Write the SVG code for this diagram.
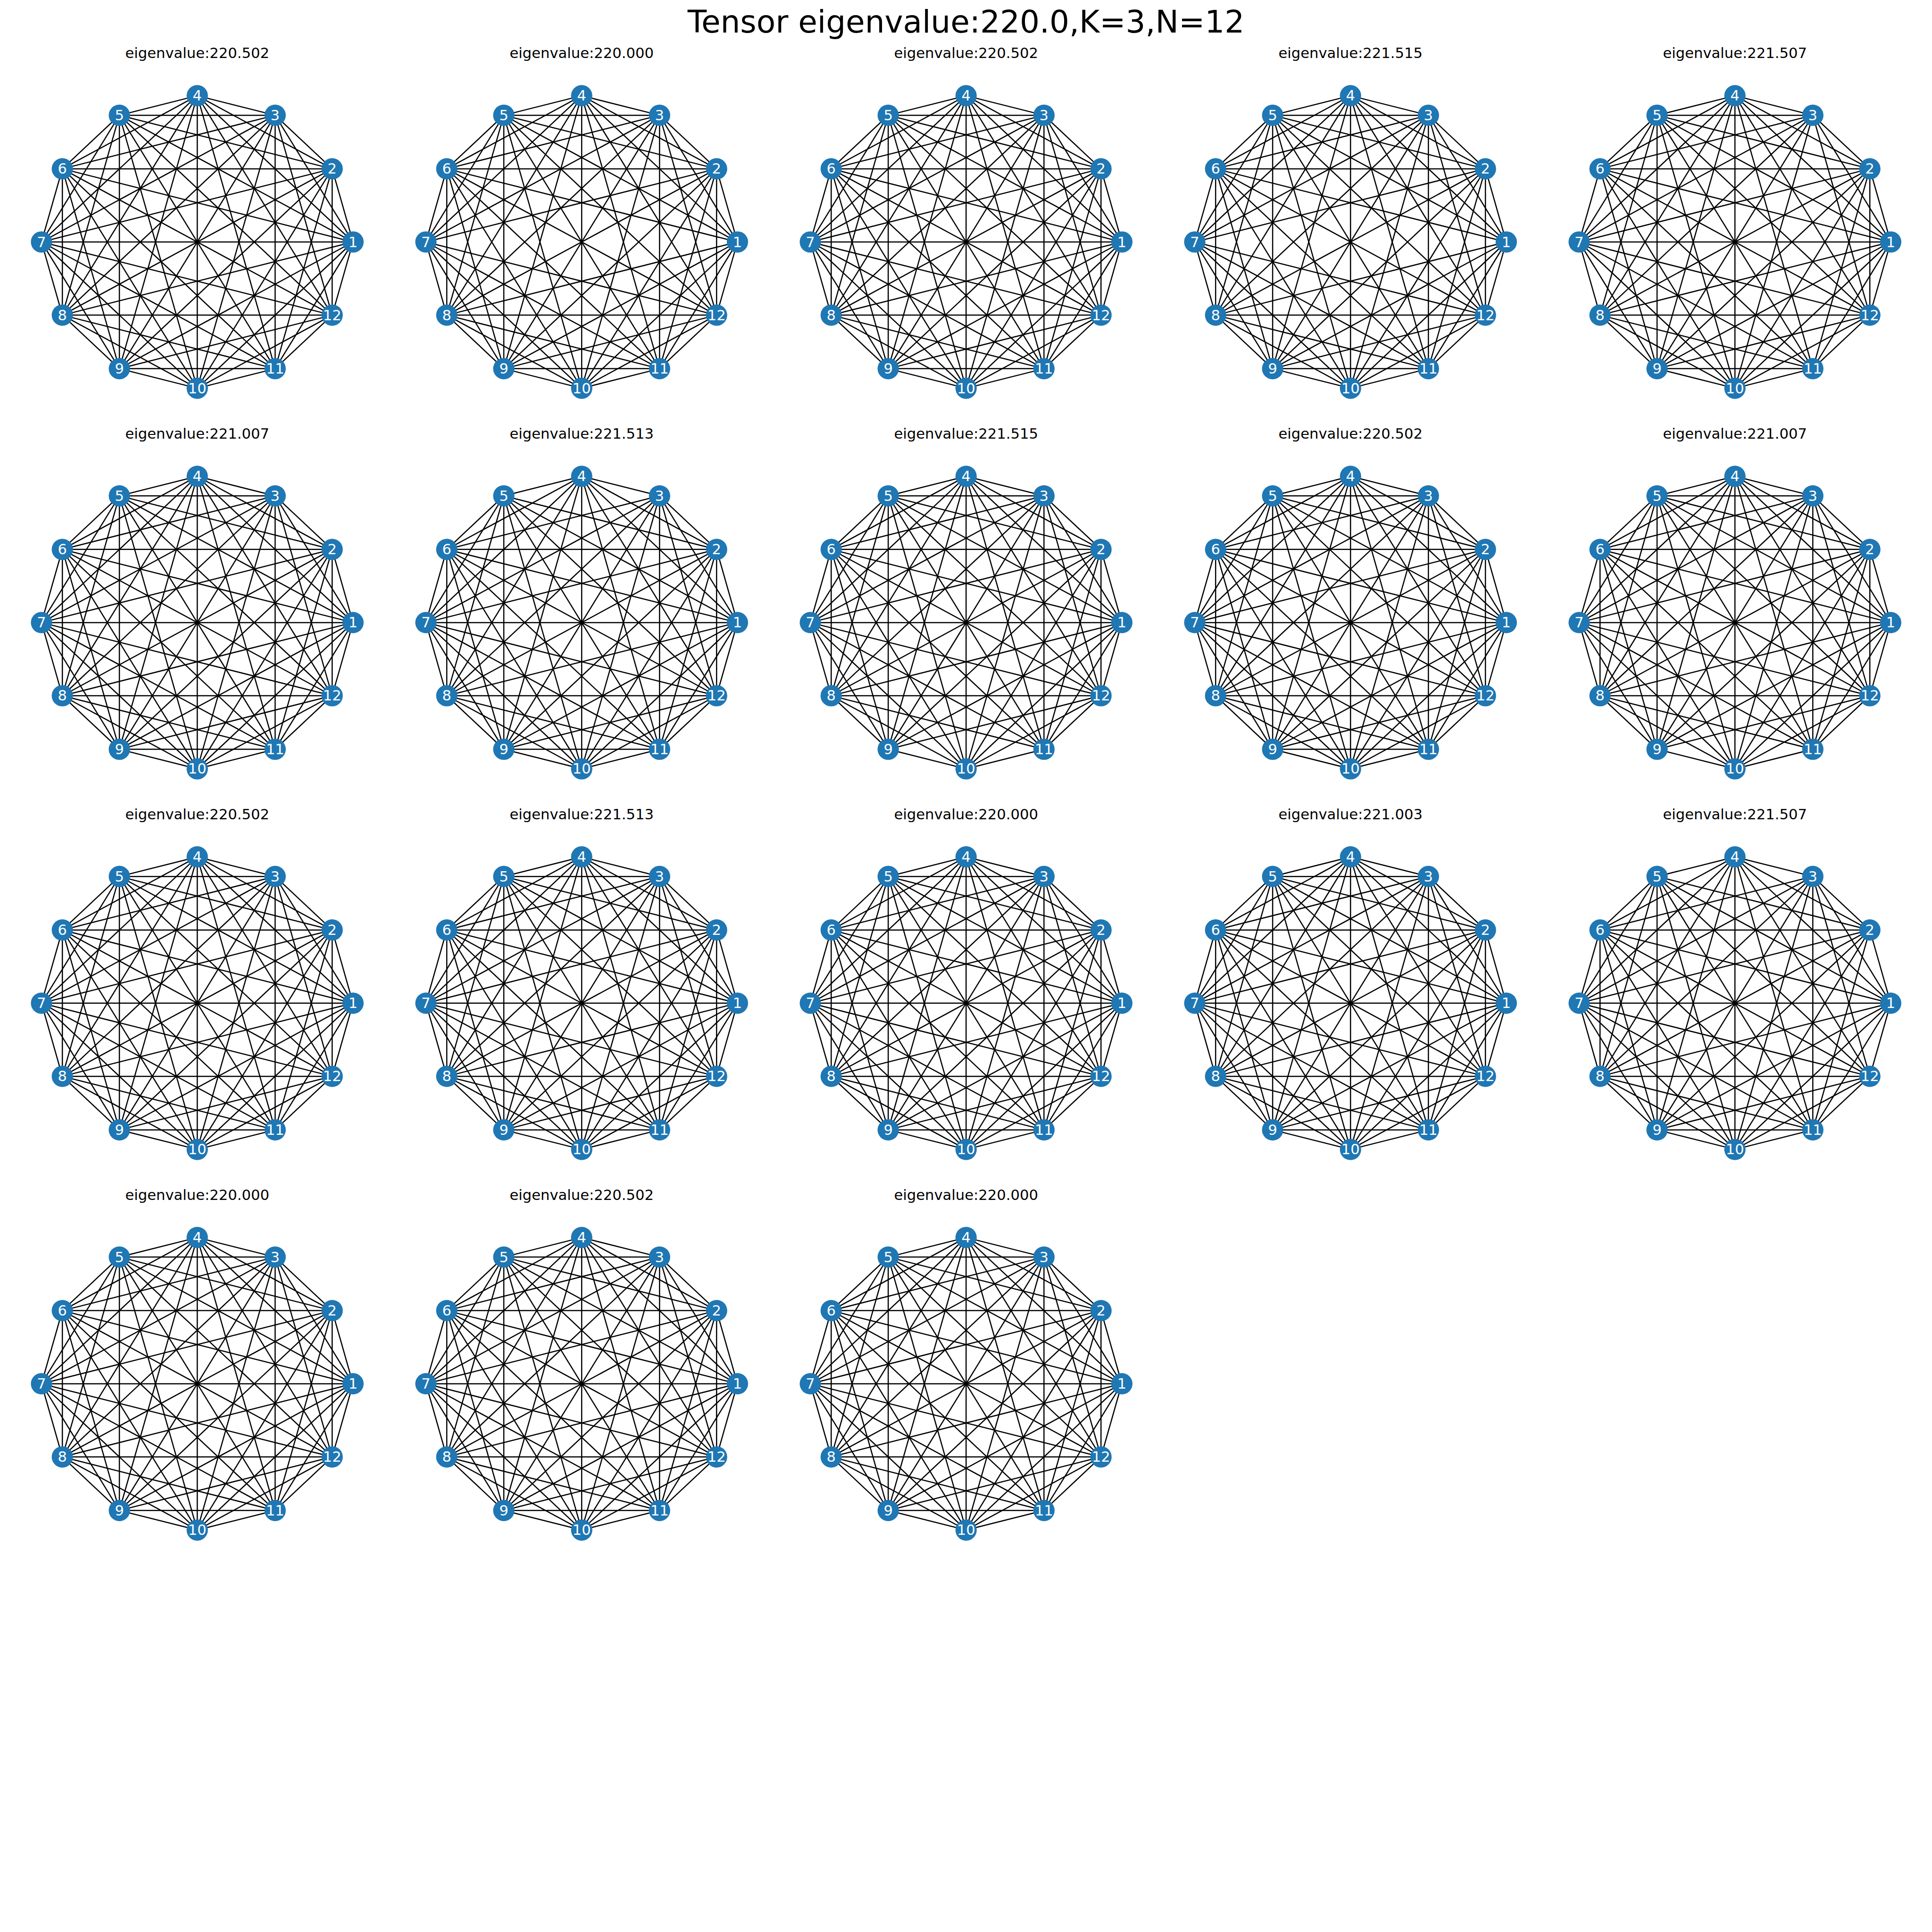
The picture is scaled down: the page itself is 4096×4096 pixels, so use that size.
<svg xmlns="http://www.w3.org/2000/svg" width="4096" height="4096" viewBox="0 0 4096 4096">
<style>
.edges{stroke:#000;stroke-width:2.5;fill:none}
.t{font-family:"DejaVu Sans","Liberation Sans",sans-serif;fill:#000;text-anchor:middle}
</style>
<defs>
<path id="e1-2" d="M330.2 0L286 -155.1"/><path id="e1-3" d="M330.2 0L165.1 -268.6"/><path id="e1-4" d="M330.2 0L0 -310.1"/><path id="e1-5" d="M330.2 0L-165.1 -268.6"/><path id="e1-6" d="M330.2 0L-286 -155.1"/><path id="e1-7" d="M330.2 0L-330.2 0"/><path id="e1-8" d="M330.2 0L-286 155.1"/><path id="e1-9" d="M330.2 0L-165.1 268.6"/><path id="e1-10" d="M330.2 0L0 310.1"/><path id="e1-11" d="M330.2 0L165.1 268.6"/><path id="e1-12" d="M330.2 0L286 155.1"/>
<path id="e2-3" d="M286 -155.1L165.1 -268.6"/><path id="e2-4" d="M286 -155.1L0 -310.1"/><path id="e2-5" d="M286 -155.1L-165.1 -268.6"/><path id="e2-6" d="M286 -155.1L-286 -155.1"/><path id="e2-7" d="M286 -155.1L-330.2 0"/><path id="e2-8" d="M286 -155.1L-286 155.1"/><path id="e2-9" d="M286 -155.1L-165.1 268.6"/><path id="e2-10" d="M286 -155.1L0 310.1"/><path id="e2-11" d="M286 -155.1L165.1 268.6"/><path id="e2-12" d="M286 -155.1L286 155.1"/>
<path id="e3-4" d="M165.1 -268.6L0 -310.1"/><path id="e3-5" d="M165.1 -268.6L-165.1 -268.6"/><path id="e3-6" d="M165.1 -268.6L-286 -155.1"/><path id="e3-7" d="M165.1 -268.6L-330.2 0"/><path id="e3-8" d="M165.1 -268.6L-286 155.1"/><path id="e3-9" d="M165.1 -268.6L-165.1 268.6"/><path id="e3-10" d="M165.1 -268.6L0 310.1"/><path id="e3-11" d="M165.1 -268.6L165.1 268.6"/><path id="e3-12" d="M165.1 -268.6L286 155.1"/>
<path id="e4-5" d="M0 -310.1L-165.1 -268.6"/><path id="e4-6" d="M0 -310.1L-286 -155.1"/><path id="e4-7" d="M0 -310.1L-330.2 0"/><path id="e4-8" d="M0 -310.1L-286 155.1"/><path id="e4-9" d="M0 -310.1L-165.1 268.6"/><path id="e4-10" d="M0 -310.1L0 310.1"/><path id="e4-11" d="M0 -310.1L165.1 268.6"/><path id="e4-12" d="M0 -310.1L286 155.1"/>
<path id="e5-6" d="M-165.1 -268.6L-286 -155.1"/><path id="e5-7" d="M-165.1 -268.6L-330.2 0"/><path id="e5-8" d="M-165.1 -268.6L-286 155.1"/><path id="e5-9" d="M-165.1 -268.6L-165.1 268.6"/><path id="e5-10" d="M-165.1 -268.6L0 310.1"/><path id="e5-11" d="M-165.1 -268.6L165.1 268.6"/><path id="e5-12" d="M-165.1 -268.6L286 155.1"/>
<path id="e6-7" d="M-286 -155.1L-330.2 0"/><path id="e6-8" d="M-286 -155.1L-286 155.1"/><path id="e6-9" d="M-286 -155.1L-165.1 268.6"/><path id="e6-10" d="M-286 -155.1L0 310.1"/><path id="e6-11" d="M-286 -155.1L165.1 268.6"/><path id="e6-12" d="M-286 -155.1L286 155.1"/>
<path id="e7-8" d="M-330.2 0L-286 155.1"/><path id="e7-9" d="M-330.2 0L-165.1 268.6"/><path id="e7-10" d="M-330.2 0L0 310.1"/><path id="e7-11" d="M-330.2 0L165.1 268.6"/><path id="e7-12" d="M-330.2 0L286 155.1"/>
<path id="e8-9" d="M-286 155.1L-165.1 268.6"/><path id="e8-10" d="M-286 155.1L0 310.1"/><path id="e8-11" d="M-286 155.1L165.1 268.6"/><path id="e8-12" d="M-286 155.1L286 155.1"/>
<path id="e9-10" d="M-165.1 268.6L0 310.1"/><path id="e9-11" d="M-165.1 268.6L165.1 268.6"/><path id="e9-12" d="M-165.1 268.6L286 155.1"/>
<path id="e10-11" d="M0 310.1L165.1 268.6"/><path id="e10-12" d="M0 310.1L286 155.1"/>
<path id="e11-12" d="M165.1 268.6L286 155.1"/>
<g id="S1"><use href="#e1-2"/><use href="#e1-3"/><use href="#e1-4"/><use href="#e1-5"/><use href="#e1-6"/><use href="#e1-7"/><use href="#e1-8"/><use href="#e1-9"/><use href="#e1-10"/><use href="#e1-11"/><use href="#e1-12"/></g>
<g id="S2"><use href="#e2-3"/><use href="#e2-4"/><use href="#e2-5"/><use href="#e2-6"/><use href="#e2-7"/><use href="#e2-8"/><use href="#e2-9"/><use href="#e2-10"/><use href="#e2-11"/><use href="#e2-12"/></g>
<g id="S3"><use href="#e3-4"/><use href="#e3-5"/><use href="#e3-6"/><use href="#e3-7"/><use href="#e3-8"/><use href="#e3-9"/><use href="#e3-10"/><use href="#e3-11"/><use href="#e3-12"/></g>
<g id="S4"><use href="#e4-5"/><use href="#e4-6"/><use href="#e4-7"/><use href="#e4-8"/><use href="#e4-9"/><use href="#e4-10"/><use href="#e4-11"/><use href="#e4-12"/></g>
<g id="S5"><use href="#e5-6"/><use href="#e5-7"/><use href="#e5-8"/><use href="#e5-9"/><use href="#e5-10"/><use href="#e5-11"/><use href="#e5-12"/></g>
<g id="S6"><use href="#e6-7"/><use href="#e6-8"/><use href="#e6-9"/><use href="#e6-10"/><use href="#e6-11"/><use href="#e6-12"/></g>
<g id="S7"><use href="#e7-8"/><use href="#e7-9"/><use href="#e7-10"/><use href="#e7-11"/><use href="#e7-12"/></g>
<g id="S8"><use href="#e8-9"/><use href="#e8-10"/><use href="#e8-11"/><use href="#e8-12"/></g>
<g id="S9"><use href="#e9-10"/><use href="#e9-11"/><use href="#e9-12"/></g>
<g id="S10"><use href="#e10-11"/><use href="#e10-12"/></g>
<g id="S11"><use href="#e11-12"/></g>
<g id="K"><use href="#S1"/><use href="#S2"/><use href="#S3"/><use href="#S4"/><use href="#S5"/><use href="#S6"/><use href="#S7"/><use href="#S8"/><use href="#S9"/><use href="#S10"/><use href="#S11"/></g>
<g id="N1"><circle cx="330.2" cy="0" r="22.6" fill="#1f77b4"/><text x="330.2" y="0" font-family="DejaVu Sans,sans-serif" font-size="30.5" fill="#fff" text-anchor="middle" dominant-baseline="central">1</text></g>
<g id="N2"><circle cx="286" cy="-155.1" r="22.6" fill="#1f77b4"/><text x="286" y="-155.1" font-family="DejaVu Sans,sans-serif" font-size="30.5" fill="#fff" text-anchor="middle" dominant-baseline="central">2</text></g>
<g id="N3"><circle cx="165.1" cy="-268.6" r="22.6" fill="#1f77b4"/><text x="165.1" y="-268.6" font-family="DejaVu Sans,sans-serif" font-size="30.5" fill="#fff" text-anchor="middle" dominant-baseline="central">3</text></g>
<g id="N4"><circle cx="0" cy="-310.1" r="22.6" fill="#1f77b4"/><text x="0" y="-310.1" font-family="DejaVu Sans,sans-serif" font-size="30.5" fill="#fff" text-anchor="middle" dominant-baseline="central">4</text></g>
<g id="N5"><circle cx="-165.1" cy="-268.6" r="22.6" fill="#1f77b4"/><text x="-165.1" y="-268.6" font-family="DejaVu Sans,sans-serif" font-size="30.5" fill="#fff" text-anchor="middle" dominant-baseline="central">5</text></g>
<g id="N6"><circle cx="-286" cy="-155.1" r="22.6" fill="#1f77b4"/><text x="-286" y="-155.1" font-family="DejaVu Sans,sans-serif" font-size="30.5" fill="#fff" text-anchor="middle" dominant-baseline="central">6</text></g>
<g id="N7"><circle cx="-330.2" cy="0" r="22.6" fill="#1f77b4"/><text x="-330.2" y="0" font-family="DejaVu Sans,sans-serif" font-size="30.5" fill="#fff" text-anchor="middle" dominant-baseline="central">7</text></g>
<g id="N8"><circle cx="-286" cy="155.1" r="22.6" fill="#1f77b4"/><text x="-286" y="155.1" font-family="DejaVu Sans,sans-serif" font-size="30.5" fill="#fff" text-anchor="middle" dominant-baseline="central">8</text></g>
<g id="N9"><circle cx="-165.1" cy="268.6" r="22.6" fill="#1f77b4"/><text x="-165.1" y="268.6" font-family="DejaVu Sans,sans-serif" font-size="30.5" fill="#fff" text-anchor="middle" dominant-baseline="central">9</text></g>
<g id="N10"><circle cx="0" cy="310.1" r="22.6" fill="#1f77b4"/><text x="0" y="310.1" font-family="DejaVu Sans,sans-serif" font-size="30.5" fill="#fff" text-anchor="middle" dominant-baseline="central">10</text></g>
<g id="N11"><circle cx="165.1" cy="268.6" r="22.6" fill="#1f77b4"/><text x="165.1" y="268.6" font-family="DejaVu Sans,sans-serif" font-size="30.5" fill="#fff" text-anchor="middle" dominant-baseline="central">11</text></g>
<g id="N12"><circle cx="286" cy="155.1" r="22.6" fill="#1f77b4"/><text x="286" y="155.1" font-family="DejaVu Sans,sans-serif" font-size="30.5" fill="#fff" text-anchor="middle" dominant-baseline="central">12</text></g>
</defs>
<rect width="4096" height="4096" fill="#fff"/>
<text class="t" x="2048" y="69" font-size="66">Tensor eigenvalue:220.0,K=3,N=12</text>
<g class="t" font-size="30.6">
<text x="418.2" y="123">eigenvalue:220.502</text><text x="1233.2" y="123">eigenvalue:220.000</text><text x="2048.2" y="123">eigenvalue:220.502</text><text x="2863.2" y="123">eigenvalue:221.515</text><text x="3678.2" y="123">eigenvalue:221.507</text>
<text x="418.2" y="929.9">eigenvalue:221.007</text><text x="1233.2" y="929.9">eigenvalue:221.513</text><text x="2048.2" y="929.9">eigenvalue:221.515</text><text x="2863.2" y="929.9">eigenvalue:220.502</text><text x="3678.2" y="929.9">eigenvalue:221.007</text>
<text x="418.2" y="1736.8">eigenvalue:220.502</text><text x="1233.2" y="1736.8">eigenvalue:221.513</text><text x="2048.2" y="1736.8">eigenvalue:220.000</text><text x="2863.2" y="1736.8">eigenvalue:221.003</text><text x="3678.2" y="1736.8">eigenvalue:221.507</text>
<text x="418.2" y="2543.7">eigenvalue:220.000</text><text x="1233.2" y="2543.7">eigenvalue:220.502</text><text x="2048.2" y="2543.7">eigenvalue:220.000</text>
</g>
<g id="graph1" transform="translate(418.2,513)"><g id="graph1-edges" class="edges"><use href="#K"/></g><g id="g1n1"><use href="#N1"/></g><g id="g1n2"><use href="#N2"/></g><g id="g1n3"><use href="#N3"/></g><g id="g1n4"><use href="#N4"/></g><g id="g1n5"><use href="#N5"/></g><g id="g1n6"><use href="#N6"/></g><g id="g1n7"><use href="#N7"/></g><g id="g1n8"><use href="#N8"/></g><g id="g1n9"><use href="#N9"/></g><g id="g1n10"><use href="#N10"/></g><g id="g1n11"><use href="#N11"/></g><g id="g1n12"><use href="#N12"/></g></g>
<g id="graph2" transform="translate(1233.2,513)"><g id="graph2-edges" class="edges"><use href="#e1-2"/><use href="#e1-3"/><use href="#e1-4"/><use href="#e1-5"/><use href="#e1-6"/><use href="#e1-8"/><use href="#e1-9"/><use href="#e1-10"/><use href="#e1-11"/><use href="#e1-12"/><use href="#S2"/><use href="#S3"/><use href="#S4"/><use href="#S5"/><use href="#S6"/><use href="#S7"/><use href="#S8"/><use href="#S9"/><use href="#S10"/><use href="#S11"/></g><g id="g2n1"><use href="#N1"/></g><g id="g2n2"><use href="#N2"/></g><g id="g2n3"><use href="#N3"/></g><g id="g2n4"><use href="#N4"/></g><g id="g2n5"><use href="#N5"/></g><g id="g2n6"><use href="#N6"/></g><g id="g2n7"><use href="#N7"/></g><g id="g2n8"><use href="#N8"/></g><g id="g2n9"><use href="#N9"/></g><g id="g2n10"><use href="#N10"/></g><g id="g2n11"><use href="#N11"/></g><g id="g2n12"><use href="#N12"/></g></g>
<g id="graph3" transform="translate(2048.2,513)"><g id="graph3-edges" class="edges"><use href="#K"/></g><g id="g3n1"><use href="#N1"/></g><g id="g3n2"><use href="#N2"/></g><g id="g3n3"><use href="#N3"/></g><g id="g3n4"><use href="#N4"/></g><g id="g3n5"><use href="#N5"/></g><g id="g3n6"><use href="#N6"/></g><g id="g3n7"><use href="#N7"/></g><g id="g3n8"><use href="#N8"/></g><g id="g3n9"><use href="#N9"/></g><g id="g3n10"><use href="#N10"/></g><g id="g3n11"><use href="#N11"/></g><g id="g3n12"><use href="#N12"/></g></g>
<g id="graph4" transform="translate(2863.2,513)"><g id="graph4-edges" class="edges"><use href="#e1-2"/><use href="#e1-3"/><use href="#e1-4"/><use href="#e1-5"/><use href="#e1-6"/><use href="#e1-8"/><use href="#e1-9"/><use href="#e1-10"/><use href="#e1-11"/><use href="#e1-12"/><use href="#S2"/><use href="#S3"/><use href="#S4"/><use href="#S5"/><use href="#S6"/><use href="#S7"/><use href="#S8"/><use href="#S9"/><use href="#S10"/><use href="#S11"/></g><g id="g4n1"><use href="#N1"/></g><g id="g4n2"><use href="#N2"/></g><g id="g4n3"><use href="#N3"/></g><g id="g4n4"><use href="#N4"/></g><g id="g4n5"><use href="#N5"/></g><g id="g4n6"><use href="#N6"/></g><g id="g4n7"><use href="#N7"/></g><g id="g4n8"><use href="#N8"/></g><g id="g4n9"><use href="#N9"/></g><g id="g4n10"><use href="#N10"/></g><g id="g4n11"><use href="#N11"/></g><g id="g4n12"><use href="#N12"/></g></g>
<g id="graph5" transform="translate(3678.2,513)"><g id="graph5-edges" class="edges"><use href="#S1"/><use href="#S2"/><use href="#e3-4"/><use href="#e3-5"/><use href="#e3-6"/><use href="#e3-7"/><use href="#e3-8"/><use href="#e3-9"/><use href="#e3-10"/><use href="#e3-12"/><use href="#S4"/><use href="#S5"/><use href="#e6-7"/><use href="#e6-9"/><use href="#e6-10"/><use href="#e6-11"/><use href="#e6-12"/><use href="#S7"/><use href="#S8"/><use href="#S9"/><use href="#S10"/><use href="#S11"/></g><g id="g5n1"><use href="#N1"/></g><g id="g5n2"><use href="#N2"/></g><g id="g5n3"><use href="#N3"/></g><g id="g5n4"><use href="#N4"/></g><g id="g5n5"><use href="#N5"/></g><g id="g5n6"><use href="#N6"/></g><g id="g5n7"><use href="#N7"/></g><g id="g5n8"><use href="#N8"/></g><g id="g5n9"><use href="#N9"/></g><g id="g5n10"><use href="#N10"/></g><g id="g5n11"><use href="#N11"/></g><g id="g5n12"><use href="#N12"/></g></g>
<g id="graph6" transform="translate(418.2,1319.9)"><g id="graph6-edges" class="edges"><use href="#K"/></g><g id="g6n1"><use href="#N1"/></g><g id="g6n2"><use href="#N2"/></g><g id="g6n3"><use href="#N3"/></g><g id="g6n4"><use href="#N4"/></g><g id="g6n5"><use href="#N5"/></g><g id="g6n6"><use href="#N6"/></g><g id="g6n7"><use href="#N7"/></g><g id="g6n8"><use href="#N8"/></g><g id="g6n9"><use href="#N9"/></g><g id="g6n10"><use href="#N10"/></g><g id="g6n11"><use href="#N11"/></g><g id="g6n12"><use href="#N12"/></g></g>
<g id="graph7" transform="translate(1233.2,1319.9)"><g id="graph7-edges" class="edges"><use href="#S1"/><use href="#S2"/><use href="#e3-4"/><use href="#e3-6"/><use href="#e3-7"/><use href="#e3-8"/><use href="#e3-9"/><use href="#e3-10"/><use href="#e3-11"/><use href="#e3-12"/><use href="#S4"/><use href="#S5"/><use href="#S6"/><use href="#S7"/><use href="#S8"/><use href="#S9"/><use href="#S10"/><use href="#S11"/></g><g id="g7n1"><use href="#N1"/></g><g id="g7n2"><use href="#N2"/></g><g id="g7n3"><use href="#N3"/></g><g id="g7n4"><use href="#N4"/></g><g id="g7n5"><use href="#N5"/></g><g id="g7n6"><use href="#N6"/></g><g id="g7n7"><use href="#N7"/></g><g id="g7n8"><use href="#N8"/></g><g id="g7n9"><use href="#N9"/></g><g id="g7n10"><use href="#N10"/></g><g id="g7n11"><use href="#N11"/></g><g id="g7n12"><use href="#N12"/></g></g>
<g id="graph8" transform="translate(2048.2,1319.9)"><g id="graph8-edges" class="edges"><use href="#S1"/><use href="#S2"/><use href="#S3"/><use href="#S4"/><use href="#S5"/><use href="#S6"/><use href="#S7"/><use href="#S8"/><use href="#e9-10"/><use href="#e9-12"/><use href="#S10"/><use href="#S11"/></g><g id="g8n1"><use href="#N1"/></g><g id="g8n2"><use href="#N2"/></g><g id="g8n3"><use href="#N3"/></g><g id="g8n4"><use href="#N4"/></g><g id="g8n5"><use href="#N5"/></g><g id="g8n6"><use href="#N6"/></g><g id="g8n7"><use href="#N7"/></g><g id="g8n8"><use href="#N8"/></g><g id="g8n9"><use href="#N9"/></g><g id="g8n10"><use href="#N10"/></g><g id="g8n11"><use href="#N11"/></g><g id="g8n12"><use href="#N12"/></g></g>
<g id="graph9" transform="translate(2863.2,1319.9)"><g id="graph9-edges" class="edges"><use href="#K"/></g><g id="g9n1"><use href="#N1"/></g><g id="g9n2"><use href="#N2"/></g><g id="g9n3"><use href="#N3"/></g><g id="g9n4"><use href="#N4"/></g><g id="g9n5"><use href="#N5"/></g><g id="g9n6"><use href="#N6"/></g><g id="g9n7"><use href="#N7"/></g><g id="g9n8"><use href="#N8"/></g><g id="g9n9"><use href="#N9"/></g><g id="g9n10"><use href="#N10"/></g><g id="g9n11"><use href="#N11"/></g><g id="g9n12"><use href="#N12"/></g></g>
<g id="graph10" transform="translate(3678.2,1319.9)"><g id="graph10-edges" class="edges"><use href="#S1"/><use href="#S2"/><use href="#S3"/><use href="#S4"/><use href="#S5"/><use href="#S6"/><use href="#S7"/><use href="#S8"/><use href="#e9-10"/><use href="#e9-12"/><use href="#S10"/><use href="#S11"/></g><g id="g10n1"><use href="#N1"/></g><g id="g10n2"><use href="#N2"/></g><g id="g10n3"><use href="#N3"/></g><g id="g10n4"><use href="#N4"/></g><g id="g10n5"><use href="#N5"/></g><g id="g10n6"><use href="#N6"/></g><g id="g10n7"><use href="#N7"/></g><g id="g10n8"><use href="#N8"/></g><g id="g10n9"><use href="#N9"/></g><g id="g10n10"><use href="#N10"/></g><g id="g10n11"><use href="#N11"/></g><g id="g10n12"><use href="#N12"/></g></g>
<g id="graph11" transform="translate(418.2,2126.8)"><g id="graph11-edges" class="edges"><use href="#K"/></g><g id="g11n1"><use href="#N1"/></g><g id="g11n2"><use href="#N2"/></g><g id="g11n3"><use href="#N3"/></g><g id="g11n4"><use href="#N4"/></g><g id="g11n5"><use href="#N5"/></g><g id="g11n6"><use href="#N6"/></g><g id="g11n7"><use href="#N7"/></g><g id="g11n8"><use href="#N8"/></g><g id="g11n9"><use href="#N9"/></g><g id="g11n10"><use href="#N10"/></g><g id="g11n11"><use href="#N11"/></g><g id="g11n12"><use href="#N12"/></g></g>
<g id="graph12" transform="translate(1233.2,2126.8)"><g id="graph12-edges" class="edges"><use href="#K"/></g><g id="g12n1"><use href="#N1"/></g><g id="g12n2"><use href="#N2"/></g><g id="g12n3"><use href="#N3"/></g><g id="g12n4"><use href="#N4"/></g><g id="g12n5"><use href="#N5"/></g><g id="g12n6"><use href="#N6"/></g><g id="g12n7"><use href="#N7"/></g><g id="g12n8"><use href="#N8"/></g><g id="g12n9"><use href="#N9"/></g><g id="g12n10"><use href="#N10"/></g><g id="g12n11"><use href="#N11"/></g><g id="g12n12"><use href="#N12"/></g></g>
<g id="graph13" transform="translate(2048.2,2126.8)"><g id="graph13-edges" class="edges"><use href="#K"/></g><g id="g13n1"><use href="#N1"/></g><g id="g13n2"><use href="#N2"/></g><g id="g13n3"><use href="#N3"/></g><g id="g13n4"><use href="#N4"/></g><g id="g13n5"><use href="#N5"/></g><g id="g13n6"><use href="#N6"/></g><g id="g13n7"><use href="#N7"/></g><g id="g13n8"><use href="#N8"/></g><g id="g13n9"><use href="#N9"/></g><g id="g13n10"><use href="#N10"/></g><g id="g13n11"><use href="#N11"/></g><g id="g13n12"><use href="#N12"/></g></g>
<g id="graph14" transform="translate(2863.2,2126.8)"><g id="graph14-edges" class="edges"><use href="#K"/></g><g id="g14n1"><use href="#N1"/></g><g id="g14n2"><use href="#N2"/></g><g id="g14n3"><use href="#N3"/></g><g id="g14n4"><use href="#N4"/></g><g id="g14n5"><use href="#N5"/></g><g id="g14n6"><use href="#N6"/></g><g id="g14n7"><use href="#N7"/></g><g id="g14n8"><use href="#N8"/></g><g id="g14n9"><use href="#N9"/></g><g id="g14n10"><use href="#N10"/></g><g id="g14n11"><use href="#N11"/></g><g id="g14n12"><use href="#N12"/></g></g>
<g id="graph15" transform="translate(3678.2,2126.8)"><g id="graph15-edges" class="edges"><use href="#S1"/><use href="#e2-3"/><use href="#e2-4"/><use href="#e2-5"/><use href="#e2-6"/><use href="#e2-7"/><use href="#e2-8"/><use href="#e2-9"/><use href="#e2-10"/><use href="#e2-11"/><use href="#e3-4"/><use href="#e3-6"/><use href="#e3-7"/><use href="#e3-8"/><use href="#e3-9"/><use href="#e3-10"/><use href="#e3-11"/><use href="#e3-12"/><use href="#S4"/><use href="#S5"/><use href="#S6"/><use href="#S7"/><use href="#S8"/><use href="#S9"/><use href="#S10"/><use href="#S11"/></g><g id="g15n1"><use href="#N1"/></g><g id="g15n2"><use href="#N2"/></g><g id="g15n3"><use href="#N3"/></g><g id="g15n4"><use href="#N4"/></g><g id="g15n5"><use href="#N5"/></g><g id="g15n6"><use href="#N6"/></g><g id="g15n7"><use href="#N7"/></g><g id="g15n8"><use href="#N8"/></g><g id="g15n9"><use href="#N9"/></g><g id="g15n10"><use href="#N10"/></g><g id="g15n11"><use href="#N11"/></g><g id="g15n12"><use href="#N12"/></g></g>
<g id="graph16" transform="translate(418.2,2933.7)"><g id="graph16-edges" class="edges"><use href="#K"/></g><g id="g16n1"><use href="#N1"/></g><g id="g16n2"><use href="#N2"/></g><g id="g16n3"><use href="#N3"/></g><g id="g16n4"><use href="#N4"/></g><g id="g16n5"><use href="#N5"/></g><g id="g16n6"><use href="#N6"/></g><g id="g16n7"><use href="#N7"/></g><g id="g16n8"><use href="#N8"/></g><g id="g16n9"><use href="#N9"/></g><g id="g16n10"><use href="#N10"/></g><g id="g16n11"><use href="#N11"/></g><g id="g16n12"><use href="#N12"/></g></g>
<g id="graph17" transform="translate(1233.2,2933.7)"><g id="graph17-edges" class="edges"><use href="#K"/></g><g id="g17n1"><use href="#N1"/></g><g id="g17n2"><use href="#N2"/></g><g id="g17n3"><use href="#N3"/></g><g id="g17n4"><use href="#N4"/></g><g id="g17n5"><use href="#N5"/></g><g id="g17n6"><use href="#N6"/></g><g id="g17n7"><use href="#N7"/></g><g id="g17n8"><use href="#N8"/></g><g id="g17n9"><use href="#N9"/></g><g id="g17n10"><use href="#N10"/></g><g id="g17n11"><use href="#N11"/></g><g id="g17n12"><use href="#N12"/></g></g>
<g id="graph18" transform="translate(2048.2,2933.7)"><g id="graph18-edges" class="edges"><use href="#K"/></g><g id="g18n1"><use href="#N1"/></g><g id="g18n2"><use href="#N2"/></g><g id="g18n3"><use href="#N3"/></g><g id="g18n4"><use href="#N4"/></g><g id="g18n5"><use href="#N5"/></g><g id="g18n6"><use href="#N6"/></g><g id="g18n7"><use href="#N7"/></g><g id="g18n8"><use href="#N8"/></g><g id="g18n9"><use href="#N9"/></g><g id="g18n10"><use href="#N10"/></g><g id="g18n11"><use href="#N11"/></g><g id="g18n12"><use href="#N12"/></g></g>
</svg>
